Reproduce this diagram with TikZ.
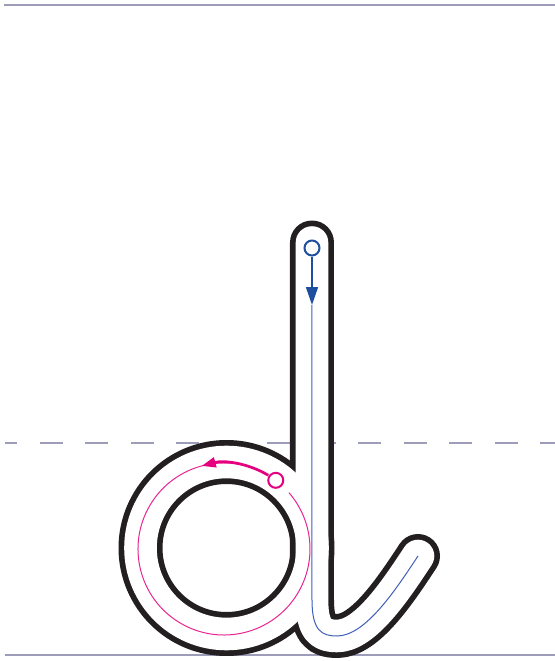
\documentclass[tikz,border=0pt]{standalone}
\usepackage{tikz}
\usetikzlibrary{arrows.meta}
\definecolor{rulegray}{RGB}{157,157,186}
\definecolor{inkblack}{RGB}{35,31,32}
\definecolor{pinkpen}{RGB}{228,0,127}
\definecolor{bluepen}{RGB}{29,79,158}
\definecolor{bluethin}{RGB}{63,95,186}
\begin{document}
\begin{tikzpicture}[
  x=0.5pt,y=0.5pt,
  rule/.style={draw=rulegray,line width=1pt},
  letterink/.style={draw=inkblack,line width=22pt,line cap=round,line join=round},
  letterpaper/.style={draw=white,line width=16.3pt,line cap=round,line join=round},
  guide/.style={line width=0.5pt},
  startmark/.style={circle,draw,fill=white,line width=1pt,inner sep=0pt,minimum size=7.5pt},
  bluearrow/.style={-{Triangle[length=9pt,width=6pt]},draw=bluepen,line width=0.85pt},
  pinkarrow/.style={-{Triangle[length=7pt,width=5pt]},draw=pinkpen,line width=1.35pt}]
\path[use as bounding box] (0,0) rectangle (555,661);
\coordinate (topleft) at (4,655.7);
\coordinate (topright) at (555,655.7);
\coordinate (midleft) at (5,218);
\coordinate (midright) at (555,218);
\coordinate (baseleft) at (5,6.5);
\coordinate (baseright) at (555,6.5);
\draw[rule] (topleft) -- (topright);
\draw[rule,dash pattern=on 11.5pt off 11.25pt,dash phase=5.25pt] (midleft) -- (midright);
\draw[rule] (baseleft) -- (baseright);

\coordinate (bowl) at (226.5,113);
\coordinate (loop) at (224,112);
\coordinate (stemtop) at (312,418.5);
\coordinate (stembend) at (312,61);
\coordinate (tailbottom) at (337,25);
\coordinate (tailend) at (418,105);
\draw[letterink] (bowl) circle[radius=86];
\draw[letterink] (stemtop) -- (stembend) .. controls (312,30) and (322,25) .. (tailbottom)
  .. controls (365,25) and (395,70) .. (tailend);
\draw[letterpaper] (bowl) circle[radius=86];
\draw[letterpaper] (stemtop) -- (stembend) .. controls (312,30) and (322,25) .. (tailbottom)
  .. controls (365,25) and (395,70) .. (tailend);

\coordinate (loopfrom) at ([shift={(loop)}]59:86);
\draw[guide,pinkpen!85] (loopfrom) arc[start angle=59,end angle=401,radius=86];
\draw[pinkarrow] (loopfrom) arc[start angle=59,end angle=105,radius=86];
\node[startmark,draw=pinkpen] (pinkstart) at ([shift={(loop)}]53:86) {};

\node[startmark,draw=bluepen] (bluestart) at (312,413) {};
\coordinate (bluetip) at (312,356);
\draw[guide,bluethin] (bluetip) -- (stembend) .. controls (312,30) and (322,25) .. (tailbottom)
  .. controls (365,25) and (395,70) .. (tailend);
\draw[bluearrow] (bluestart) -- (bluetip);
\end{tikzpicture}
\end{document}
